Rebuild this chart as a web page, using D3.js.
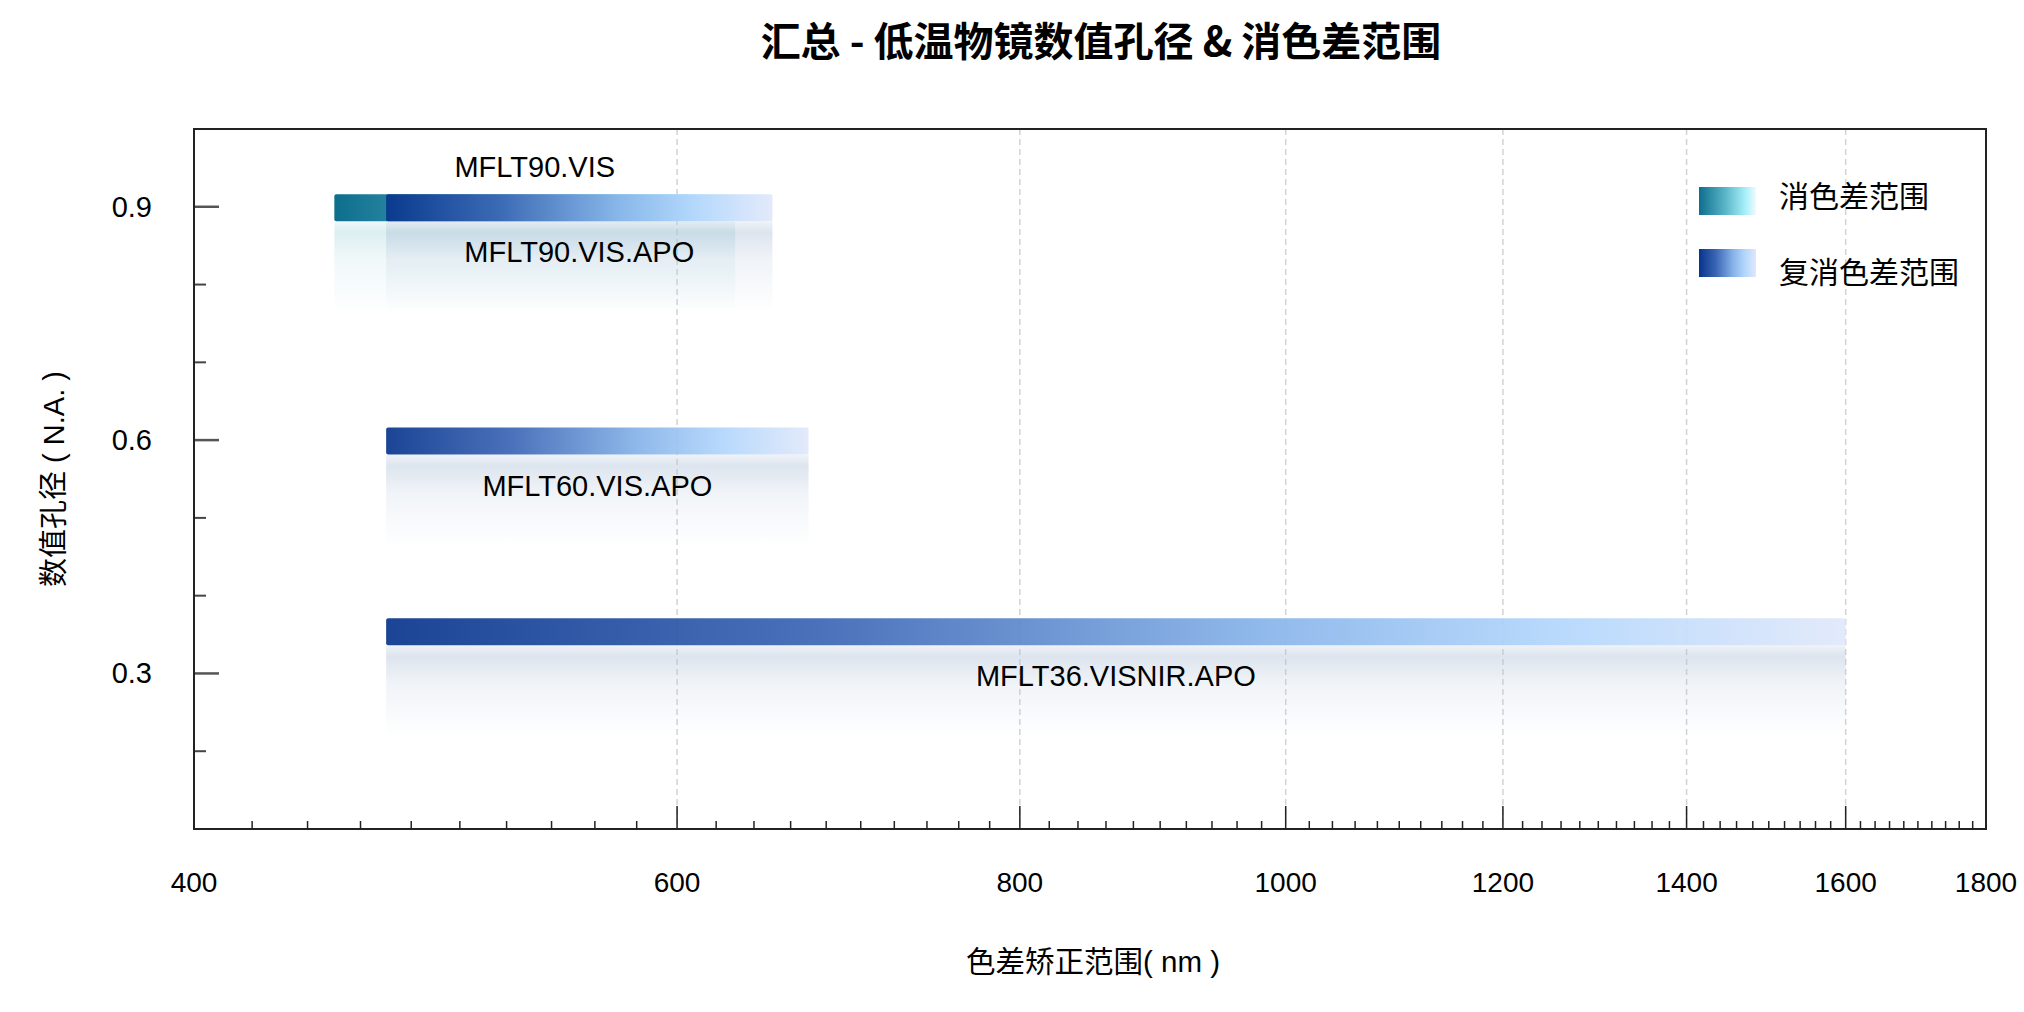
<!DOCTYPE html>
<html>
<head>
<meta charset="utf-8">
<script src="https://cdn.jsdelivr.net/npm/d3@7"></script>
<style>
  body { margin: 0; background: #fff; }
  text { font-family: "Liberation Sans", Arial, "Noto Sans CJK SC", sans-serif; fill: #000; }
</style>
</head>
<body>
<svg id="chart" width="2024" height="1012"></svg>
<script>
// chart values
const objectives = ["MFLT90.VIS", "MFLT90.VIS.APO", "MFLT60.VIS.APO", "MFLT36.VISNIR.APO"];
const kinds = ["vis", "apo", "apo", "apo"];
const naValues = [0.9, 0.9, 0.6, 0.355];
const rangeStart = [450, 470, 470, 470];
const rangeEnd = [630, 650, 670, 1600];
const xTickValues = [400, 600, 800, 1000, 1200, 1400, 1600, 1800];
const yTickValues = [0.3, 0.6, 0.9];
const legendLabels = ["消色差范围", "复消色差范围"];

const rows = objectives.map((name, i) => ({
  name: name, kind: kinds[i], na: naValues[i], start: rangeStart[i], end: rangeEnd[i]
}));

function drawChart() {
  var margin = { top: 129, right: 38, bottom: 183, left: 194 },
    svg_dx = 2024,
    svg_dy = 1012,
    plot_right = svg_dx - margin.right,
    plot_bottom = svg_dy - margin.bottom,
    plot_cx = (margin.left + plot_right) / 2;

  var x = d3.scaleLog().domain([400, 1800]).range([margin.left, plot_right]),
    y = d3.scaleLinear().domain([0.1, 1.0]).range([plot_bottom, margin.top]);

  var svg = d3.select("#chart");
  var defs = svg.append("defs");

  // horizontal gradients for the bars
  function hGrad(id, stops) {
    var g = defs.append("linearGradient").attr("id", id)
      .attr("x1", "0%").attr("x2", "100%").attr("y1", "0%").attr("y2", "0%");
    stops.forEach((s) => g.append("stop").attr("offset", s[0]).attr("stop-color", s[1]));
  }
  hGrad("grad-vis", [[0, "#0d6e8d"], [0.45, "#58b3c6"], [0.8, "#a3eef8"], [1, "#eefcff"]]);
  hGrad("grad-apo", [[0, "#07348c"], [0.3, "#3b66b5"], [0.6, "#87b3e9"], [0.8, "#b2d6fc"], [1, "#e0e8fa"]]);

  // vertical fade used as a soft reflection below each bar
  function vGrad(id, color, peak) {
    var g = defs.append("linearGradient").attr("id", id)
      .attr("x1", "0%").attr("x2", "0%").attr("y1", "0%").attr("y2", "100%");
    [[0, 0.45], [0.12, 1], [0.4, 0.45], [1, 0]].forEach((s) =>
      g.append("stop").attr("offset", s[0]).attr("stop-color", color).attr("stop-opacity", s[1] * peak));
  }
  vGrad("refl-vis", "#a9d7df", 0.4);
  vGrad("refl-apo", "#b3c4da", 0.45);

  // grid lines at the labelled wavelengths
  svg.append("g").selectAll("line")
    .data(xTickValues.slice(1, -1))
    .enter().append("line")
    .attr("x1", (d) => x(d)).attr("x2", (d) => x(d))
    .attr("y1", margin.top).attr("y2", plot_bottom)
    .attr("stroke", "#d2d2d2").attr("stroke-width", 1.5)
    .attr("stroke-dasharray", "6,4");

  var barH = 27, reflH = 92;

  // reflections
  svg.append("g").selectAll("rect")
    .data(rows)
    .enter().append("rect")
    .attr("x", (d) => x(d.start))
    .attr("width", (d) => x(d.end) - x(d.start))
    .attr("y", (d) => y(d.na) + 1 + barH / 2)
    .attr("height", reflH)
    .attr("fill", (d) => "url(#refl-" + d.kind + ")");

  // bars, achromat first so apochromat sits on top
  var sorted = rows.slice().sort((a, b) => (a.kind === "vis" ? -1 : 1) - (b.kind === "vis" ? -1 : 1));
  svg.append("g").selectAll("rect")
    .data(sorted)
    .enter().append("rect")
    .attr("x", (d) => x(d.start))
    .attr("width", (d) => x(d.end) - x(d.start))
    .attr("y", (d) => y(d.na) + 1 - barH / 2)
    .attr("height", barH)
    .attr("rx", 2)
    .attr("fill", (d) => "url(#grad-" + d.kind + ")")
    .attr("opacity", (d) => (d.kind === "apo" ? 0.92 : 1));

  // bar labels: achromat above the bar, apochromat below
  svg.append("g").selectAll("text")
    .data(rows)
    .enter().append("text")
    .attr("x", (d) => (x(d.start) + x(d.end)) / 2)
    .attr("y", (d) => (d.kind === "vis" ? y(d.na) + 1 - barH / 2 - 17 : y(d.na) + 1 + barH / 2 + 41))
    .attr("text-anchor", "middle")
    .attr("font-size", 29)
    .text((d) => d.name);

  // x axis ticks pointing into the plot
  var minorX = d3.range(420, 1800, 20).filter((v) => xTickValues.indexOf(v) < 0);
  var axisG = svg.append("g").attr("stroke", "#222");
  axisG.selectAll(".mx").data(minorX).enter().append("line")
    .attr("x1", (d) => x(d)).attr("x2", (d) => x(d))
    .attr("y1", plot_bottom).attr("y2", plot_bottom - 8).attr("stroke-width", 1.5);
  axisG.selectAll(".Mx").data(xTickValues.slice(1, -1)).enter().append("line")
    .attr("x1", (d) => x(d)).attr("x2", (d) => x(d))
    .attr("y1", plot_bottom).attr("y2", plot_bottom - 23).attr("stroke-width", 1.5);

  svg.append("g").selectAll("text")
    .data(xTickValues)
    .enter().append("text")
    .attr("x", (d) => x(d))
    .attr("y", plot_bottom + 63)
    .attr("text-anchor", "middle")
    .attr("font-size", 28)
    .text((d) => d);

  // y axis ticks pointing into the plot
  var minorY = [0.2, 0.4, 0.5, 0.7, 0.8];
  axisG.selectAll(".my").data(minorY).enter().append("line")
    .attr("x1", margin.left).attr("x2", margin.left + 12)
    .attr("y1", (d) => y(d)).attr("y2", (d) => y(d))
    .attr("stroke", "#444").attr("stroke-width", 2);
  axisG.selectAll(".My").data(yTickValues).enter().append("line")
    .attr("x1", margin.left).attr("x2", margin.left + 25)
    .attr("y1", (d) => y(d)).attr("y2", (d) => y(d))
    .attr("stroke", "#555").attr("stroke-width", 2.5);

  svg.append("g").selectAll("text")
    .data(yTickValues)
    .enter().append("text")
    .attr("x", margin.left - 42)
    .attr("y", (d) => y(d) + 10)
    .attr("text-anchor", "end")
    .attr("font-size", 29)
    .text((d) => d.toFixed(1));

  // frame
  svg.append("rect")
    .attr("x", margin.left).attr("y", margin.top)
    .attr("width", plot_right - margin.left).attr("height", plot_bottom - margin.top)
    .attr("fill", "none").attr("stroke", "#222").attr("stroke-width", 2);

  // titles
  svg.append("text")
    .attr("x", plot_cx + 11).attr("y", 56)
    .attr("text-anchor", "middle")
    .attr("font-size", 40).attr("font-weight", "bold")
    .style("font-family", "'Noto Sans CJK SC', sans-serif")
    .text("汇总 - 低温物镜数值孔径 & 消色差范围");

  svg.append("text")
    .attr("x", plot_cx + 3).attr("y", 972)
    .attr("text-anchor", "middle")
    .attr("font-size", 29.5)
    .text("色差矫正范围( nm )");

  svg.append("text")
    .attr("transform", "translate(64," + (margin.top + plot_bottom) / 2 + ") rotate(-90)")
    .attr("text-anchor", "middle")
    .attr("font-size", 29)
    .text("数值孔径 ( N.A. )");

  // legend
  var legend = svg.append("g").attr("transform", "translate(1699,187)");
  var legendKinds = ["vis", "apo"];
  legend.selectAll("rect").data(legendKinds).enter().append("rect")
    .attr("x", 0).attr("y", (d, i) => i * 62)
    .attr("width", 57).attr("height", 28)
    .attr("fill", (d) => "url(#grad-" + d + ")");
  legend.selectAll("text").data(legendLabels).enter().append("text")
    .attr("x", 80).attr("y", (d, i) => 20 + i * 76)
    .attr("font-size", 30)
    .text((d) => d);
}

drawChart();
</script>
</body>
</html>
